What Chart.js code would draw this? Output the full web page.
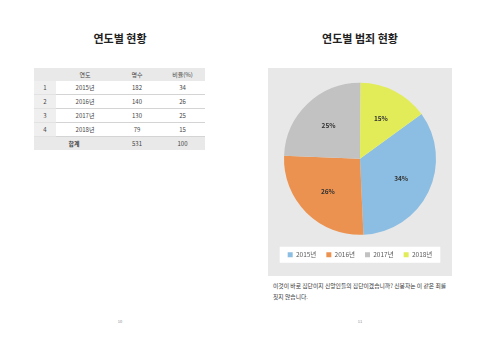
<!DOCTYPE html>
<html>
<head>
<meta charset="utf-8">
<script src="https://cdn.jsdelivr.net/npm/chart.js@4.4.0/dist/chart.umd.min.js"></script>
<style>
  html, body { margin: 0; padding: 0; background: #fff; }
  body { width: 480px; height: 340px; position: relative; overflow: hidden;
         font-family: "Noto Sans CJK KR", "Noto Sans", sans-serif; color: #222; }
  .title { position: absolute; top: 30px; width: 240px; text-align: center;
           font-size: 11px; font-weight: bold; }
  #stats { position: absolute; left: 34px; top: 68px; width: 171px;
           border-collapse: collapse; font-size: 6px; color: #444; }
  #stats td, #stats th { height: 13px; padding: 0; text-align: center; font-weight: normal;
                         border-bottom: 1px solid #d4d4d4; }
  #stats th { background: #e9e9e9; border-bottom: none; }
  #stats td.idx { background: #efefef; border-bottom: 1px solid #e2e2e2; }
  #stats tr.sum td { background: #e9e9e9; border-bottom: none; font-weight: bold; }
  #stats tr.sum td.v { font-weight: normal; }
  #chartBox { position: absolute; left: 268px; top: 68px; width: 184px; height: 208px;
              background: #e8e8e8; }
  .para { position: absolute; left: 273px; top: 280px; width: 180px;
          font-size: 5.8px; line-height: 11px; color: #333; }
  .pageno { position: absolute; top: 318px; width: 240px; text-align: center;
            font-size: 4px; color: #888; }
</style>
</head>
<body>
<div class="title" style="left:0">연도별 현황</div>
<div class="title" style="left:240px">연도별 범죄 현황</div>

<table id="stats"></table>

<div id="chartBox"><canvas id="crimeChart"></canvas></div>

<div class="para">이것이 바로 집단이지 신앙인들의 집단이겠습니까? 신봉자는 이 같은 죄를<br>짓지 않습니다.</div>
<div class="pageno" style="left:0">10</div>
<div class="pageno" style="left:240px">11</div>

<script>
const years = ['2015년', '2016년', '2017년', '2018년'];
const counts = [182, 140, 130, 79];
const ratios = [34, 26, 25, 15];
const totalCount = 531;
const totalRatio = 100;
const headers = ['', '연도', '명수', '비율(%)'];
const sliceColors = ['#8bbee2', '#ec9250', '#c2c2c2', '#e2ec58'];

// 표 만들기
const table = document.getElementById('stats');
let html = '<colgroup><col style="width:22px"><col style="width:58px"><col style="width:46px"><col style="width:45px"></colgroup>';
html += '<tr>' + headers.map(h => '<th>' + h + '</th>').join('') + '</tr>';
years.forEach((y, i) => {
    html += '<tr><td class="idx">' + (i + 1) + '</td><td>' + y + '</td><td>' + counts[i] + '</td><td>' + ratios[i] + '</td></tr>';
});
html += '<tr class="sum"><td colspan="2">합계</td><td class="v">' + totalCount + '</td><td class="v">' + totalRatio + '</td></tr>';
table.innerHTML = html;

// 범례 뒤 흰 박스
const legendBoxPlugin = {
    id: 'legendBox',
    beforeDraw(chart) {
        const boxes = chart.legend && chart.legend.legendHitBoxes;
        if (!boxes || !boxes.length) return;
        const ctx = chart.ctx;
        const left = Math.min(...boxes.map(b => b.left)) - 8;
        const right = Math.max(...boxes.map(b => b.left + b.width)) + 8;
        const cy = boxes[0].top + boxes[0].height / 2;
        ctx.save();
        ctx.fillStyle = '#ffffff';
        ctx.fillRect(left, cy - 8, right - left, 16);
        ctx.restore();
    }
};

// 조각 안 퍼센트 라벨
const percentLabels = {
    id: 'percentLabels',
    afterDatasetsDraw(chart) {
        const ctx = chart.ctx;
        const meta = chart.getDatasetMeta(0);
        ctx.save();
        ctx.font = 'bold 6.5px "Noto Sans CJK KR", sans-serif';
        ctx.fillStyle = '#333';
        ctx.textAlign = 'center';
        ctx.textBaseline = 'middle';
        meta.data.forEach((arc, i) => {
            const p = arc.getProps(['x', 'y', 'startAngle', 'endAngle', 'outerRadius'], true);
            const mid = (p.startAngle + p.endAngle) / 2;
            const d = p.outerRadius * 0.6;
            ctx.fillText(ratios[i] + '%', p.x + Math.cos(mid) * d, p.y + Math.sin(mid) * d);
        });
        ctx.restore();
    }
};

const ctx = document.getElementById('crimeChart').getContext('2d');
new Chart(ctx, {
    type: 'pie',
    data: {
        labels: years,
        datasets: [{
            data: counts,
            backgroundColor: sliceColors,
            borderWidth: 0
        }]
    },
    options: {
        responsive: true,
        maintainAspectRatio: false,
        devicePixelRatio: 1,
        animation: false,
        rotation: 54,
        radius: 76,
        layout: { padding: { top: 8, bottom: 8 } },
        plugins: {
            legend: {
                position: 'bottom',
                labels: {
                    boxWidth: 5,
                    boxHeight: 5,
                    padding: 10,
                    color: '#595959',
                    font: { size: 6.5, family: '"Noto Sans CJK KR", sans-serif' }
                }
            },
            tooltip: { enabled: false }
        }
    },
    plugins: [legendBoxPlugin, percentLabels]
});
</script>
</body>
</html>
